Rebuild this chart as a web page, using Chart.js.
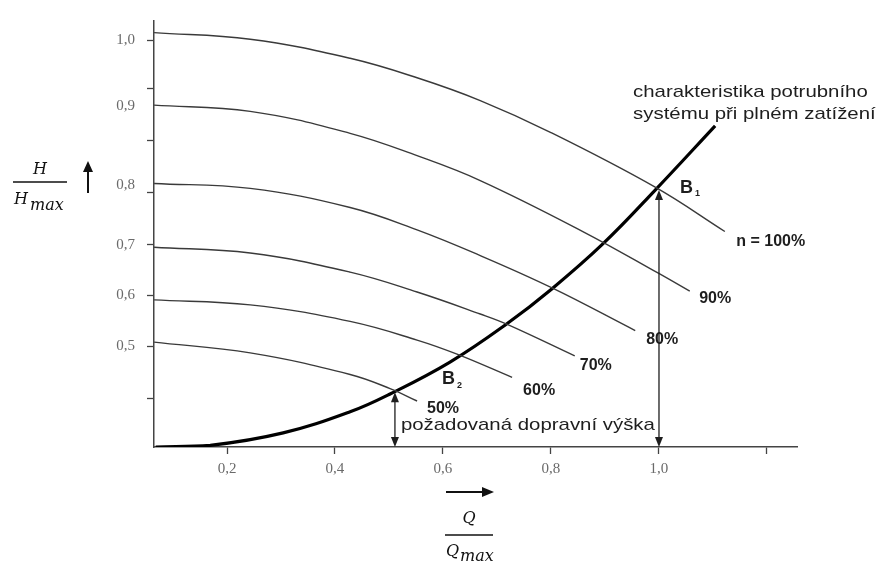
<!DOCTYPE html>
<html>
<head>
<meta charset="utf-8">
<script src="https://cdn.jsdelivr.net/npm/chart.js@4.4.1/dist/chart.umd.min.js"></script>
<style>
  html, body { margin: 0; padding: 0; background: #fff; }
  #wrap { width: 883px; height: 561px; }
</style>
</head>
<body>
<div id="wrap"><canvas id="c" width="883" height="561"></canvas></div>
<script>
// ---- data (Q/Qmax, H/Hmax) ----
const q100 = [0.065, 0.243, 0.428, 0.552, 0.669, 0.798, 0.993, 1.122];
const h100 = [1.000, 0.984, 0.938, 0.891, 0.836, 0.760, 0.627, 0.520];
const q90  = [0.065, 0.243, 0.428, 0.552, 0.669, 0.859, 0.998, 1.057];
const h90  = [0.825, 0.810, 0.757, 0.703, 0.643, 0.520, 0.420, 0.376];
const q80  = [0.065, 0.243, 0.428, 0.552, 0.669, 0.802, 0.956];
const h80  = [0.636, 0.624, 0.578, 0.524, 0.462, 0.384, 0.281];
const q70  = [0.065, 0.243, 0.428, 0.552, 0.669, 0.719, 0.844];
const h70  = [0.482, 0.468, 0.422, 0.374, 0.321, 0.296, 0.220];
const q60  = [0.065, 0.243, 0.428, 0.552, 0.626, 0.728];
const h60  = [0.355, 0.343, 0.303, 0.258, 0.224, 0.168];
const q50  = [0.065, 0.243, 0.428, 0.502, 0.552];
const h50  = [0.253, 0.227, 0.175, 0.141, 0.111];
const qSys = [0.068, 0.169, 0.304, 0.428, 0.502, 0.613, 0.719, 0.802, 0.896, 0.993, 1.104];
const hSys = [0.000, 0.004, 0.034, 0.085, 0.128, 0.205, 0.298, 0.382, 0.490, 0.620, 0.775];

// axis ticks
const xTickValues = [0.2, 0.4, 0.6, 0.8, 1.0, 1.2];
const xTickLabels = ['0,2', '0,4', '0,6', '0,8', '1,0', ''];
const yTickValues = [0.118, 0.243, 0.366, 0.488, 0.615, 0.631, 0.740, 0.823, 0.865, 0.981];
const yTickLabels = ['', '0,5', '0,6', '0,7', '', '0,8', '', '0,9', '', '1,0'];
const yTickMarks  = [true, true, true, true, true, false, true, false, true, true];

// curve labels
const curveLabels = ['n = 100%', '90%', '80%', '70%', '60%', '50%'];
const curveLabelQ = [1.207, 1.104, 1.006, 0.883, 0.778, 0.600];
const curveLabelH = [0.496, 0.359, 0.260, 0.196, 0.137, 0.092];

// operating points B1, B2 and the head arrows
const pointNames = ['1', '2'];
const pointQ = [1.039, 0.598];
const pointH = [0.626, 0.163];
const arrowQ = [1.0, 0.511];
const arrowH = [0.620, 0.132];

const toXY = (qs, hs) => qs.map((q, i) => ({ x: q, y: hs[i] }));

function pumpSet(qs, hs) {
  return {
    data: toXY(qs, hs), showLine: true, pointRadius: 0, borderColor: '#3a3a3a',
    borderWidth: 1.4, tension: 0.4, fill: false
  };
}

const annot = {
  id: 'annot',
  afterDraw(chart) {
    const c = chart.ctx, xs = chart.scales.x, ys = chart.scales.y;
    const px = q => xs.getPixelForValue(q), py = h => ys.getPixelForValue(h);
    const ink = '#1e1e1e';

    function text(str, x, y, font, align, sx) {
      c.save();
      c.translate(x, y);
      c.scale(sx || 1, 1);
      c.font = font; c.fillStyle = ink; c.textAlign = align || 'left'; c.textBaseline = 'middle';
      c.fillText(str, 0, 0);
      c.restore();
    }
    function head(x, y, dir, len, hw) {
      c.beginPath();
      if (dir === 'up') { c.moveTo(x, y); c.lineTo(x - hw, y + len); c.lineTo(x + hw, y + len); }
      else if (dir === 'down') { c.moveTo(x, y); c.lineTo(x - hw, y - len); c.lineTo(x + hw, y - len); }
      else { c.moveTo(x, y); c.lineTo(x - len, y - hw); c.lineTo(x - len, y + hw); }
      c.closePath(); c.fill();
    }

    c.save();
    c.strokeStyle = ink; c.fillStyle = ink; c.lineWidth = 1.3;
    // double-headed head arrows
    arrowQ.forEach((q, i) => {
      const x = px(q), y0 = py(0), y1 = py(arrowH[i]);
      c.beginPath(); c.moveTo(x, y0 - 4); c.lineTo(x, y1 + 4); c.stroke();
      head(x, y0, 'down', 10, 4);
      head(x, y1, 'up', 10, 4);
    });
    c.restore();

    // curve labels
    curveLabels.forEach((s, i) => text(s, px(curveLabelQ[i]), py(curveLabelH[i]), 'bold 16px "Liberation Sans", Arial, sans-serif', 'center'));

    // B1, B2
    pointNames.forEach((s, i) => {
      const x = px(pointQ[i]), y = py(pointH[i]);
      text('B', x, y, 'bold 18px "Liberation Sans", Arial, sans-serif', 'left');
      text(s, x + 15, y + 6, 'bold 9px "Liberation Sans", Arial, sans-serif', 'left');
    });

    // system curve note and required head text
    text('charakteristika potrubního', px(0.952), py(0.856), '17px "Liberation Sans", Arial, sans-serif', 'left', 1.2);
    text('systému při plném zatížení', px(0.952), py(0.804), '17px "Liberation Sans", Arial, sans-serif', 'left', 1.2);
    text('požadovaná dopravní výška', px(0.522), py(0.052), '17px "Liberation Sans", Arial, sans-serif', 'left', 1.2);

    // axis titles (fractions with arrows)
    c.save();
    c.fillStyle = '#111'; c.strokeStyle = '#111';
    c.textBaseline = 'alphabetic'; c.textAlign = 'center';
    c.font = 'italic 16px "DejaVu Serif", serif';
    c.fillText('H', 40, 174);
    c.lineWidth = 1.6;
    c.beginPath(); c.moveTo(13, 182); c.lineTo(67, 182); c.stroke();
    c.textAlign = 'left';
    c.fillText('H', 14, 204);
    c.fillText('max', 30, 210);
    // up arrow
    c.lineWidth = 2;
    c.beginPath(); c.moveTo(88, 193); c.lineTo(88, 170); c.stroke();
    head(88, 161, 'up', 11, 5);

    // Q / Qmax
    c.textAlign = 'center';
    c.fillText('Q', 469, 523);
    c.lineWidth = 1.6;
    c.beginPath(); c.moveTo(445, 535); c.lineTo(493, 535); c.stroke();
    c.textAlign = 'left';
    c.fillText('Q', 446, 556);
    c.fillText('max', 460, 561);
    c.lineWidth = 2;
    c.beginPath(); c.moveTo(446, 492); c.lineTo(484, 492); c.stroke();
    head(494, 492, 'right', 12, 5);
    c.restore();
  }
};

new Chart(document.getElementById('c'), {
  type: 'scatter',
  data: {
    datasets: [
      pumpSet(q100, h100), pumpSet(q90, h90), pumpSet(q80, h80),
      pumpSet(q70, h70), pumpSet(q60, h60), pumpSet(q50, h50),
      { data: toXY(qSys, hSys), showLine: true, pointRadius: 0, borderColor: '#000',
        borderWidth: 3.2, tension: 0.4, fill: false }
    ]
  },
  options: {
    responsive: false, animation: false, devicePixelRatio: 1,
    layout: { padding: { left: 0, right: 86, top: 12, bottom: 0 } },
    plugins: { legend: { display: false }, tooltip: { enabled: false } },
    scales: {
      x: {
        type: 'linear', min: 0.0648, max: 1.2556,
        afterBuildTicks: s => { s.ticks = xTickValues.map(v => ({ value: v })); },
        afterFit: s => { s.height = 114; },
        grid: { drawOnChartArea: false, drawTicks: true, tickLength: 7, tickColor: '#444', tickWidth: 1.3 },
        border: { display: true, color: '#444', width: 1.5 },
        ticks: {
          autoSkip: false, maxRotation: 0, padding: 6, color: '#6a6a6a',
          font: { family: '"Liberation Serif", "Times New Roman", serif', size: 15 },
          callback: (v, i) => xTickLabels[i]
        }
      },
      y: {
        type: 'linear', min: 0, max: 1.028,
        afterBuildTicks: s => { s.ticks = yTickValues.map(v => ({ value: v })); },
        afterFit: s => { s.width = 154; },
        grid: { drawOnChartArea: false, drawTicks: true, tickLength: 7, tickWidth: 1.3,
                tickColor: ctx => yTickMarks[ctx.index] ? '#444' : 'rgba(0,0,0,0)' },
        border: { display: true, color: '#444', width: 1.5 },
        ticks: {
          autoSkip: false, padding: 12, color: '#6a6a6a',
          font: { family: '"Liberation Serif", "Times New Roman", serif', size: 15 },
          callback: (v, i) => yTickLabels[i]
        }
      }
    }
  },
  plugins: [annot]
});
</script>
</body>
</html>
